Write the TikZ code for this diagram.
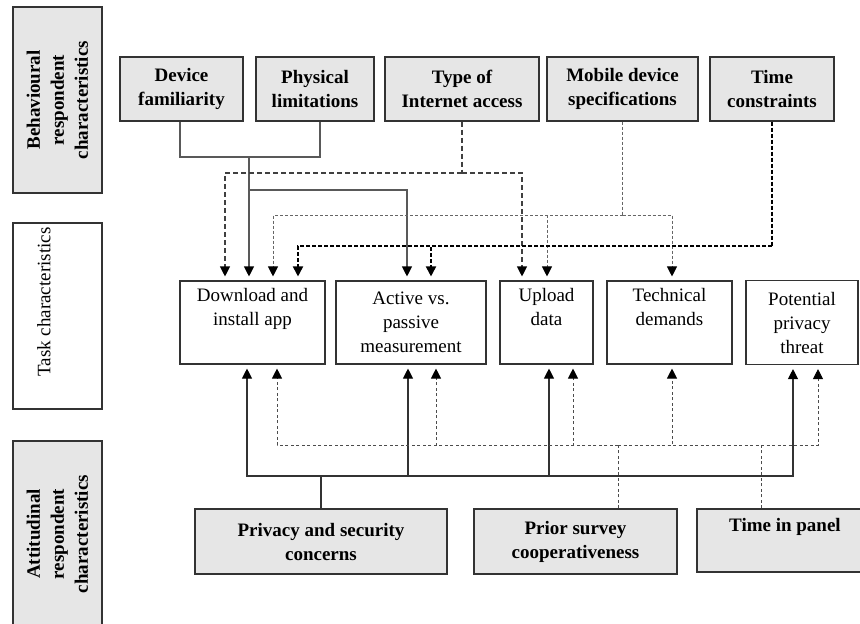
\documentclass[tikz,border=0pt]{standalone}
\usepackage{fontspec}
\setmainfont{Liberation Serif}
\usetikzlibrary{arrows.meta}
\definecolor{boxgray}{HTML}{E6E6E6}
\definecolor{edgegray}{HTML}{333333}
\begin{document}
\begin{tikzpicture}[x=1pt,y=-1pt,
  basefont/.style={font=\fontsize{19}{24}\selectfont},
  graybox/.style={basefont,font=\fontsize{19}{24}\selectfont\bfseries,draw=edgegray,fill=boxgray,line width=1.1pt,inner sep=0pt,align=center},
  whitebox/.style={basefont,draw=edgegray,fill=white,line width=1.1pt,inner sep=0pt,align=center},
  arr/.style={-{Triangle[width=10pt,length=10pt,color=black]},shorten >=4pt},
  gline/.style={draw=black!65,line width=1.1pt},
  dashA/.style={draw=black!75,line width=1.1pt,dash pattern=on 5pt off 3pt},
  dashM/.style={draw=black!60,line width=1pt,dash pattern=on 3pt off 2pt},
  dashT/.style={draw=black,line width=1.8pt,dash pattern=on 4pt off 2pt},
  sline/.style={draw=black!80,line width=1.1pt},
  dashB/.style={draw=black!70,line width=1pt,dash pattern=on 3pt off 2.5pt}]
\useasboundingbox (0,0) rectangle (860,624);

% left column
\node[graybox,rotate=90,minimum width=186pt,minimum height=89pt] (beh) at (57.5,100) {Behavioural\\respondent\\characteristics};
\node[whitebox,rotate=90,minimum width=186pt,minimum height=89pt] (task) at (57.5,316) {\hspace*{28pt}Task characteristics\\[-4pt]\strut};
\node[graybox,rotate=90,minimum width=186pt,minimum height=89pt] (att) at (57.5,534) {Attitudinal\\respondent\\characteristics};

% top row
\node[graybox,minimum width=123pt,minimum height=64pt] (df) at (181.5,89) {Device\\familiarity};
\node[graybox,minimum width=118pt,minimum height=64pt] (pl) at (315,89) {Physical\\limitations};
\node[graybox,minimum width=154pt,minimum height=64pt] (ti) at (462,89) {Type of\\Internet access};
\node[graybox,minimum width=151pt,minimum height=64pt] (md) at (622.5,89) {Mobile device\\specifications};
\node[graybox,minimum width=124pt,minimum height=64pt] (tc) at (772,89) {Time\\constraints};

% middle row
\node[whitebox,minimum width=145pt,minimum height=83pt] (dl) at (252.5,322.5) {Download and\\install app\\\strut};
\node[whitebox,minimum width=150pt,minimum height=83pt] (ap) at (411,322.5) {Active vs.\\passive\\measurement};
\node[whitebox,minimum width=93pt,minimum height=83pt] (ud) at (546.5,322.5) {Upload\\data\\\strut};
\node[whitebox,minimum width=125pt,minimum height=83pt] (td) at (669.5,322.5) {Technical\\demands\\\strut};
\node[whitebox,minimum width=112pt,minimum height=84pt] (pp) at (802,322.5) {Potential\\privacy\\threat};

% bottom row
\node[graybox,minimum width=252pt,minimum height=65pt] (psc) at (321,541.5) {Privacy and security\\concerns};
\node[graybox,minimum width=203pt,minimum height=65pt] (psy) at (575.5,541.5) {Prior survey\\cooperativeness};
\node[graybox,minimum width=176pt,minimum height=63pt] (tip) at (785,540.5) {Time in panel\\\strut};

% source / target points
\coordinate (s1) at ([xshift=-1.5pt]df.south);
\coordinate (s2) at ([xshift=5pt]pl.south);
\coordinate (j1) at (249,157);
\coordinate (j2) at (249,190);
\coordinate (j3) at (462,173);
\coordinate (j4) at (622.5,215);
\coordinate (j5) at (772,246);
\coordinate (j6) at (321,476);
\coordinate (j7) at (618,445);
\coordinate (j8) at (761,445);
\coordinate (p7) at ([xshift=42.5pt]psy.north);
\coordinate (p8) at ([xshift=-24pt]tip.north);

\coordinate (dlA) at ([xshift=-27.5pt]dl.north);
\coordinate (dlB) at ([xshift=-3.5pt]dl.north);
\coordinate (dlC) at ([xshift=20.5pt]dl.north);
\coordinate (dlD) at ([xshift=45.5pt]dl.north);
\coordinate (apA) at ([xshift=-4pt]ap.north);
\coordinate (apB) at ([xshift=20pt]ap.north);
\coordinate (udA) at ([xshift=-24.5pt]ud.north);
\coordinate (udB) at ([xshift=0.5pt]ud.north);
\coordinate (tdA) at ([xshift=2.5pt]td.north);

\coordinate (dlE) at ([xshift=-5.5pt]dl.south);
\coordinate (dlF) at ([xshift=24.5pt]dl.south);
\coordinate (apE) at ([xshift=-3pt]ap.south);
\coordinate (apF) at ([xshift=25pt]ap.south);
\coordinate (udE) at ([xshift=2.5pt]ud.south);
\coordinate (udF) at ([xshift=26.5pt]ud.south);
\coordinate (tdF) at ([xshift=2.5pt]td.south);
\coordinate (ppE) at ([xshift=-9pt]pp.south);
\coordinate (ppF) at ([xshift=16pt]pp.south);

% device familiarity + physical limitations
\draw[gline] (s1) |- (j1) -| (s2);
\draw[gline,arr] (j1) -- (dlB);
\draw[gline,arr] (j2) -| (apA);

% type of internet access
\draw[dashA] (ti.south) -- (j3);
\draw[dashA,arr] (j3) -| (dlA);
\draw[dashA,arr] (j3) -| (udA);

% mobile device specifications
\draw[dashM] (md.south) -- (j4);
\draw[dashM,arr] (j4) -| (dlC);
\draw[dashM,arr] (j4) -| (udB);
\draw[dashM,arr] (j4) -| (tdA);

% time constraints
\draw[dashT] (tc.south) -- (j5);
\draw[dashT,arr] (j5) -| (dlD);
\draw[dashT,arr] (j5) -| (apB);

% privacy and security concerns
\draw[sline] (psc.north) -- (j6);
\draw[sline,arr] (j6) -| (dlE);
\draw[sline,arr] (j6) -| (apE);
\draw[sline,arr] (j6) -| (udE);
\draw[sline,arr] (j6) -| (ppE);

% prior survey cooperativeness + time in panel
\draw[dashB] (p7) -- (j7);
\draw[dashB] (p8) -- (j8);
\draw[dashB] (j7) -- (j8);
\draw[dashB,arr] (j7) -| (dlF);
\draw[dashB,arr] (j7) -| (apF);
\draw[dashB,arr] (j7) -| (udF);
\draw[dashB,arr] (j7) -| (tdF);
\draw[dashB,arr] (j8) -| (ppF);
\end{tikzpicture}
\end{document}
